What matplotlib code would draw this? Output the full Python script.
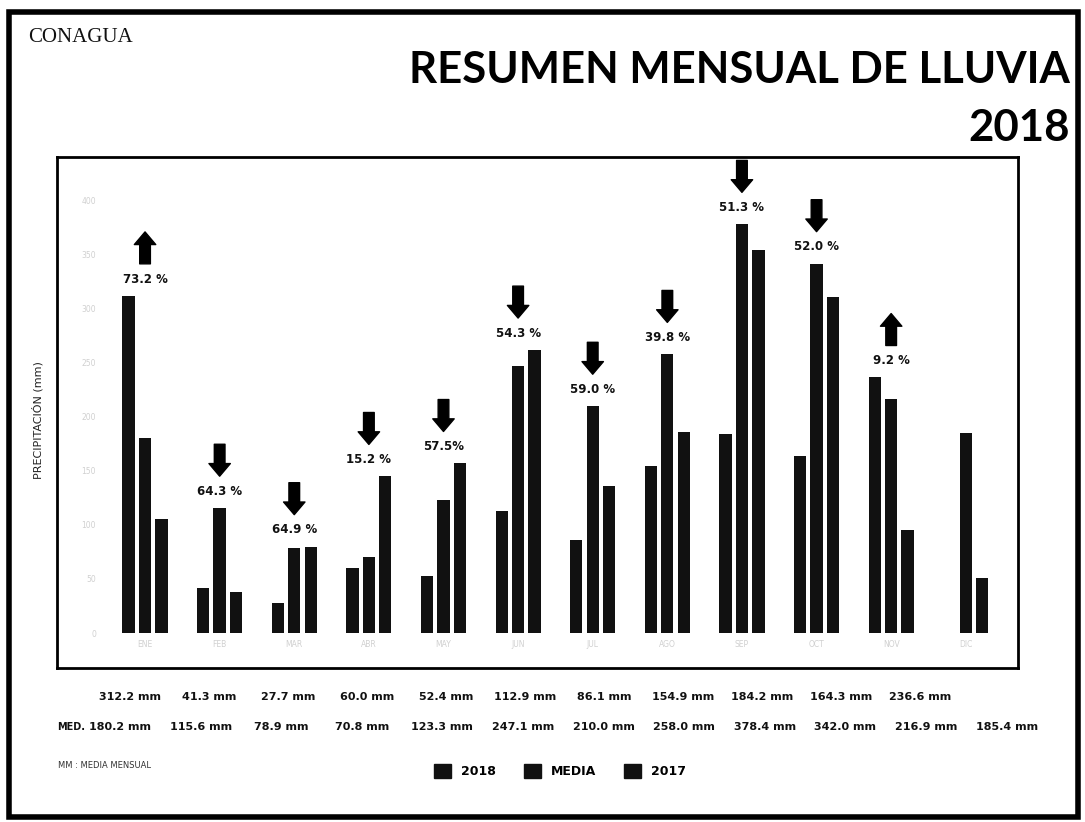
import numpy as np
import matplotlib
matplotlib.use("Agg")
import matplotlib.pyplot as plt
import matplotlib.transforms as mtransforms
from matplotlib.patches import Patch, Rectangle

months = ["ENE", "FEB", "MAR", "ABR", "MAY", "JUN", "JUL", "AGO", "SEP", "OCT", "NOV", "DIC"]
lluvia_2018 = [312.2, 41.3, 27.7, 60.0, 52.4, 112.9, 86.1, 154.9, 184.2, 164.3, 236.6, np.nan]
media = [180.2, 115.6, 78.9, 70.8, 123.3, 247.1, 210.0, 258.0, 378.4, 342.0, 216.9, 185.4]
lluvia_2017 = [106, 38, 80, 145, 157, 262, 136, 186, 355, 311, 95, 51]
pct_change = [73.2, 64.3, 64.9, 15.2, 57.5, 54.3, 59.0, 39.8, 51.3, 52.0, 9.2]
pct_text = ["73.2 %", "64.3 %", "64.9 %", "15.2 %", "57.5%", "54.3 %", "59.0 %",
            "39.8 %", "51.3 %", "52.0 %", "9.2 %"]
yticks = [0, 50, 100, 150, 200, 250, 300, 350, 400]

W, H = 1085, 822
fig = plt.figure(figsize=(W / 100, H / 100), dpi=100)
ax = fig.add_axes([57 / W, 1 - 668 / H, (1018 - 57) / W, (668 - 157) / H])

x = np.arange(len(months))
bw = 0.165
step = 0.22
bar_color = "#111111"
ax.bar(x - step, lluvia_2018, bw, color=bar_color, label="2018")
ax.bar(x, media, bw, color=bar_color, label="MEDIA")
ax.bar(x + step, lluvia_2017, bw, color=bar_color, label="2017")

ax.set_xlim(-1.18, 11.70)
ax.set_ylim(-32.4, 440.7)

for s in ax.spines.values():
    s.set_linewidth(2.0)
    s.set_color("black")

ax.set_yticks(yticks)
ax.set_yticklabels([str(v) for v in yticks])
ax.tick_params(axis="y", length=0, pad=-28, labelsize=5.5, labelcolor="#d0d0d0")
ax.set_xticks(x)
ax.set_xticklabels(months)
ax.tick_params(axis="x", length=0, pad=-20, labelsize=5.5, labelcolor="#d0d0d0")
for lbl in ax.get_yticklabels():
    lbl.set_horizontalalignment("right")

fig.text(38 / W, 1 - 420 / H, "PRECIPITACIÓN (mm)", rotation=90, ha="center", va="center",
         fontsize=8, color="#222222", family="DejaVu Sans")

# arrows and percent labels
for i, p in enumerate(pct_change):
    vals = [v for v in (lluvia_2018[i], media[i], lluvia_2017[i]) if not np.isnan(v)]
    top = max(vals)
    up = lluvia_2018[i] > media[i]
    t_lo = mtransforms.offset_copy(ax.transData, fig=fig, x=0, y=23, units="points")
    t_hi = mtransforms.offset_copy(ax.transData, fig=fig, x=0, y=46, units="points")
    t_lab = mtransforms.offset_copy(ax.transData, fig=fig, x=0, y=12, units="points")
    if up:
        tip, tail = t_hi, t_lo
    else:
        tip, tail = t_lo, t_hi
    ax.annotate("", xy=(x[i], top), xycoords=tip, xytext=(x[i], top), textcoords=tail,
                arrowprops=dict(arrowstyle="simple,head_length=0.65,head_width=1.1,tail_width=0.55",
                                fc="black", ec="black", mutation_scale=14,
                                shrinkA=0, shrinkB=0))
    ax.text(x[i], top, pct_text[i], transform=t_lab, ha="center", va="center",
            fontsize=8.5, fontweight="bold", color="#111111")

# header
fig.text(28 / W, 1 - 38 / H, "CONAGUA", ha="left", va="center", fontsize=15,
         family="Liberation Serif", color="#111111")
fig.text(1070 / W, 1 - 70 / H, "RESUMEN MENSUAL DE LLUVIA", ha="right", va="center",
         fontsize=31.5, family="Lato", fontweight="bold", color="black")
fig.text(1070 / W, 1 - 128 / H, "2018", ha="right", va="center",
         fontsize=31.5, family="Lato", fontweight="bold", color="black")

# value table below chart
for i, v in enumerate(lluvia_2018):
    if np.isnan(v):
        continue
    fig.text((130 + 79 * i) / W, 1 - 697 / H, f"{v:.1f} mm", ha="center", va="center",
             fontsize=8, fontweight="bold", color="#111111")
fig.text(71 / W, 1 - 727 / H, "MED.", ha="center", va="center",
         fontsize=7, fontweight="bold", color="#111111")
for i, v in enumerate(media):
    fig.text((120 + 80.6 * i) / W, 1 - 727 / H, f"{v:.1f} mm", ha="center", va="center",
             fontsize=8, fontweight="bold", color="#111111")

fig.text(58 / W, 1 - 765 / H, "MM : MEDIA MENSUAL", ha="left", va="center",
         fontsize=6, color="#333333")

handles = [Patch(color=bar_color, label="2018"), Patch(color=bar_color, label="MEDIA"),
           Patch(color=bar_color, label="2017")]
fig.legend(handles=handles, loc="center", bbox_to_anchor=(560 / W, 1 - 771 / H), ncol=3,
           frameon=False, handlelength=1.4, handleheight=1.4, columnspacing=2.2,
           handletextpad=0.8, prop=dict(size=9, weight="bold"))

# outer frame
fig.patches.append(Rectangle((9 / W, 5 / H), (1078 - 9) / W, (810 - 5) / H,
                             transform=fig.transFigure, fill=False, lw=4, ec="black"))

fig.savefig("out.png", dpi=100)
